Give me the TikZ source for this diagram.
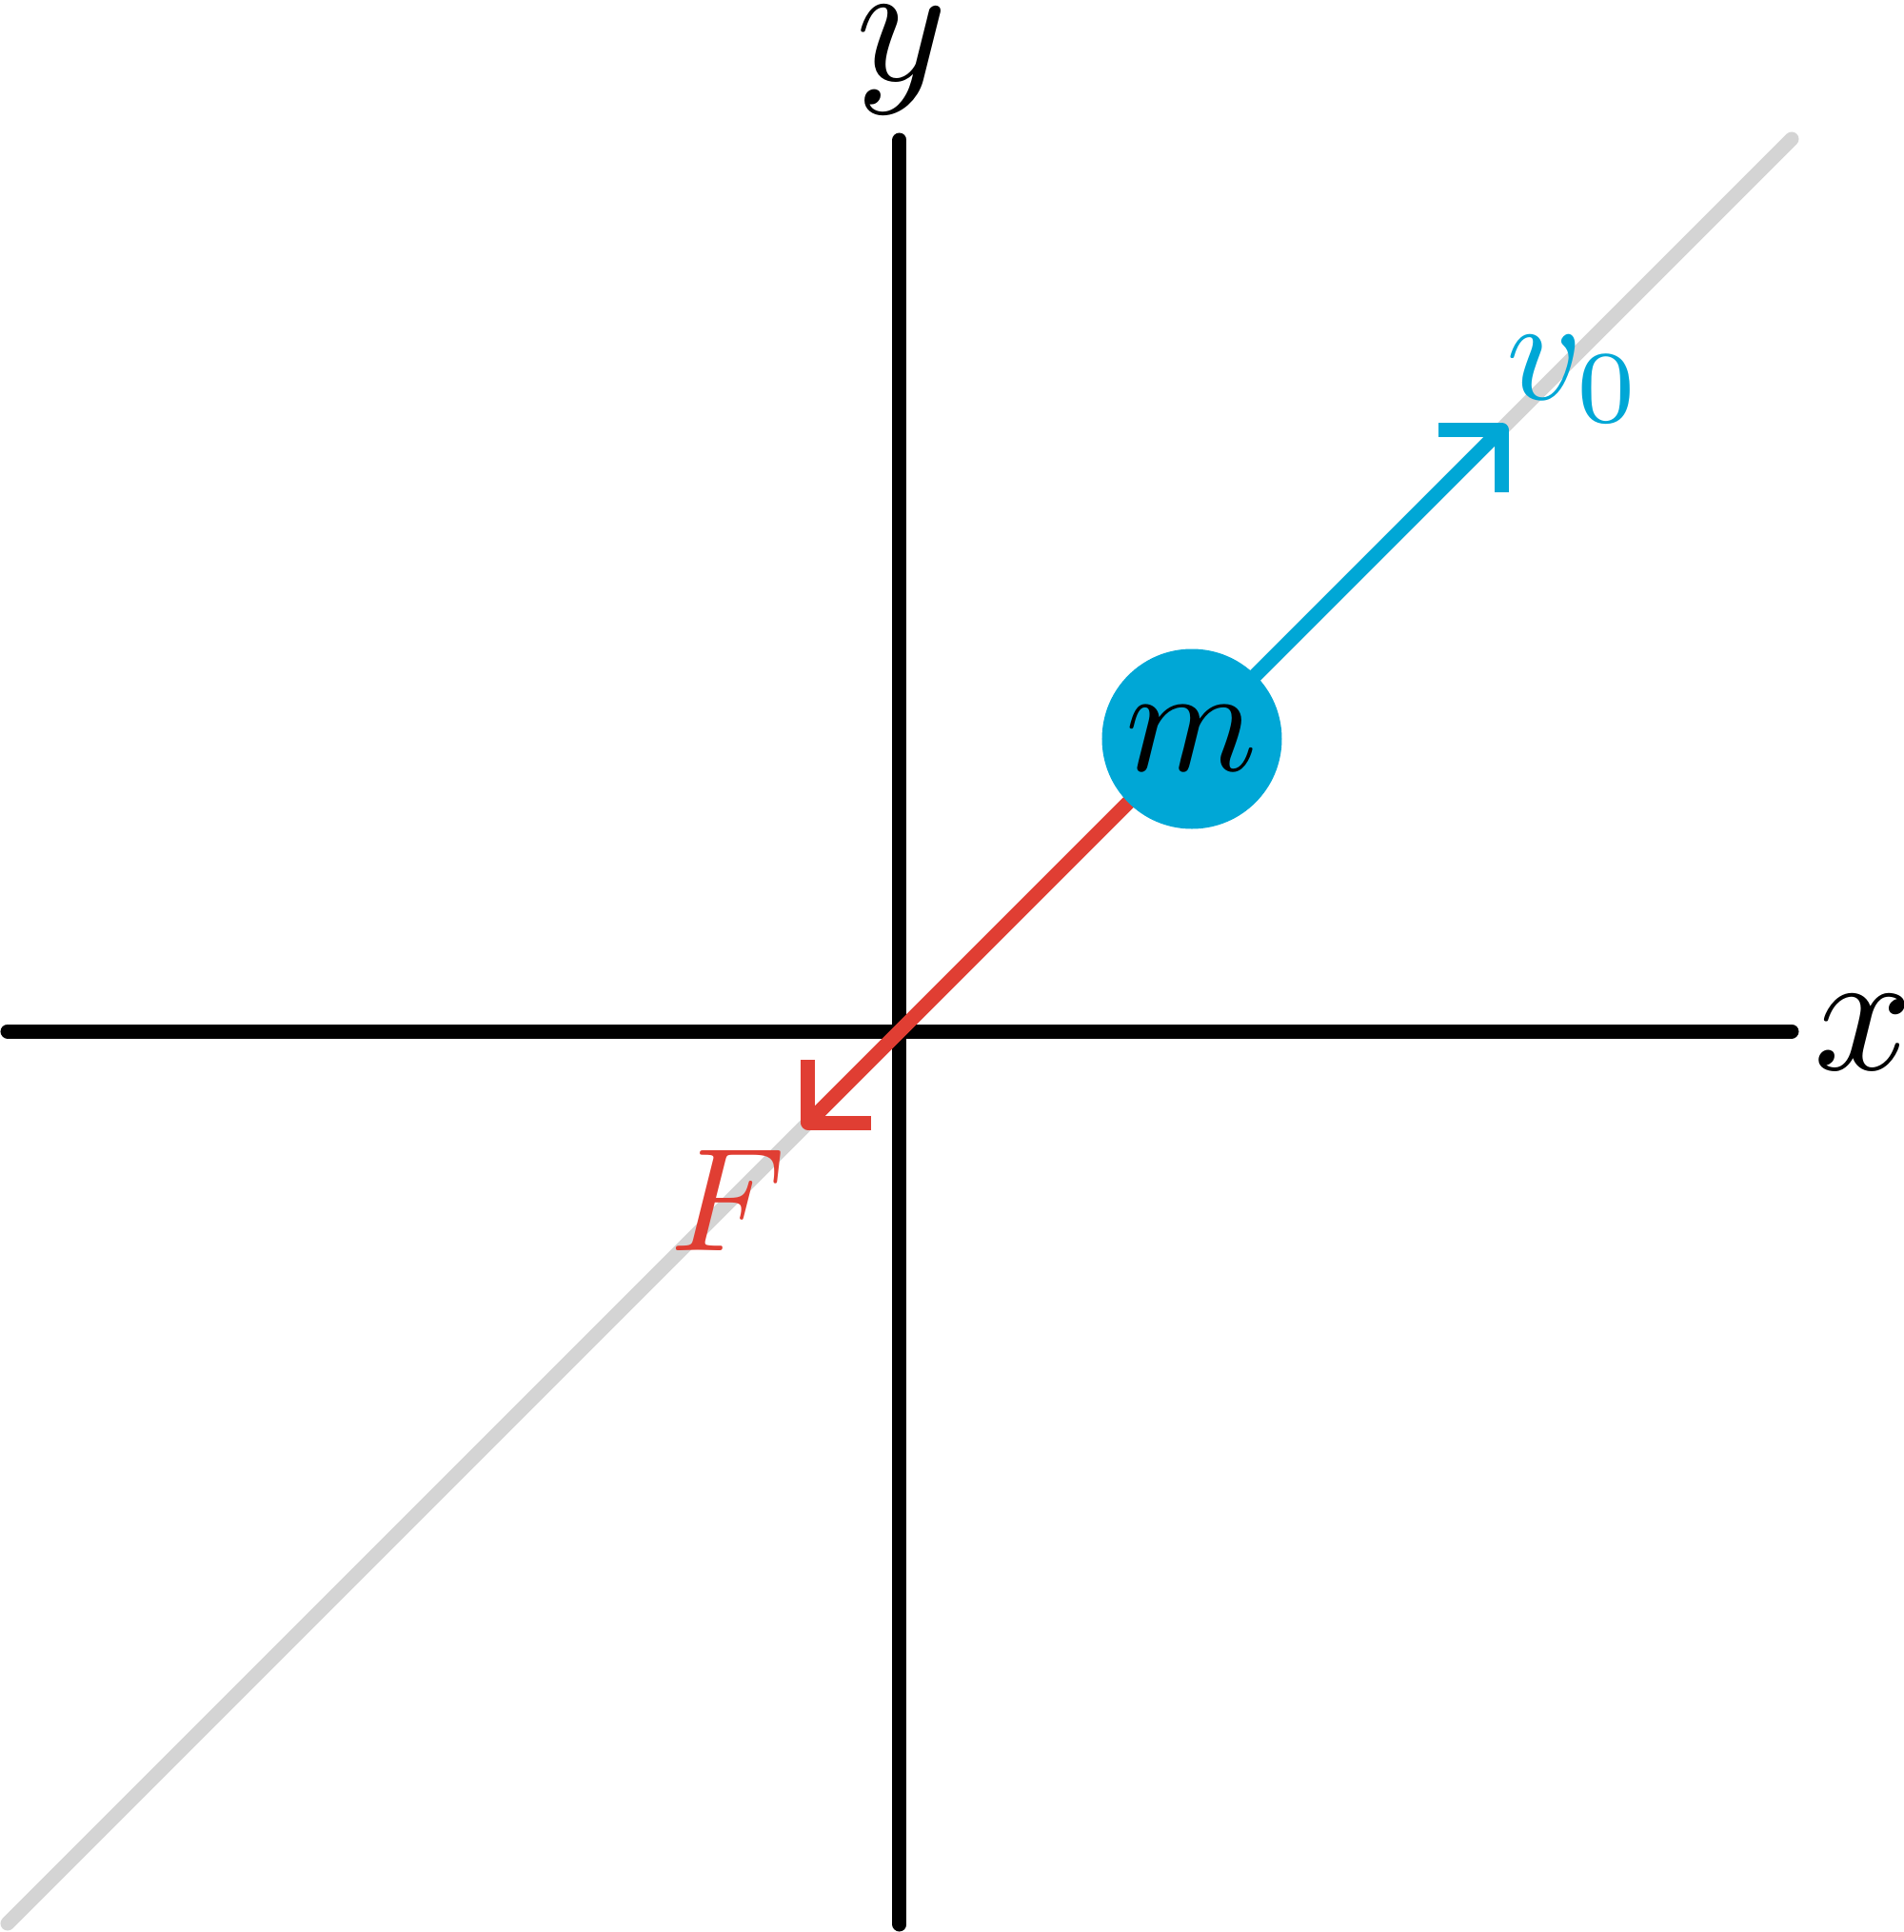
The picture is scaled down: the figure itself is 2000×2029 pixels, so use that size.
\documentclass[tikz,border=0pt]{standalone}
\definecolor{vblue}{HTML}{00A7D6}
\definecolor{fred}{HTML}{E03E33}
\definecolor{lgray}{HTML}{D4D4D4}
\begin{document}
\begin{tikzpicture}[x=0.0666667pt, y=0.0666667pt,
  axis/.style={line width=1pt, line cap=round},
  vec/.style={line width=1pt},
  head/.style={line width=1pt, line join=round},
  big/.style={scale=1.21, inner sep=0pt, anchor=base west},
  lab/.style={scale=1.03, inner sep=0pt, anchor=base west}]
\useasboundingbox (-945,-946) rectangle (1055,1083);
\coordinate (gs) at (-937,-937);
\coordinate (ge) at (937,937);
\draw[axis, lgray] (gs) -- (ge);
\coordinate (xl) at (-937,0);
\coordinate (xr) at (937,0);
\coordinate (yb) at (0,-938);
\coordinate (yt) at (0,936);
\draw[axis] (xl) -- (xr);
\draw[axis] (yb) -- (yt);
\coordinate (mc) at (307,307);
\coordinate (vt) at (632,632);
\coordinate (ft) at (-96,-96);
\draw[vec, vblue] (mc) -- (vt);
\draw[head, vblue] ([xshift=-4.4pt]vt) -- (vt) -- ([yshift=-4.4pt]vt);
\draw[vec, fred] (mc) -- (ft);
\draw[head, fred] ([xshift=4.4pt]ft) -- (ft) -- ([yshift=4.4pt]ft);
\node[circle, fill=vblue, minimum size=12.6pt, inner sep=0pt] (m) at (mc) {\scalebox{1.05}{$m$}};
\node[big] (ylab) at (-49,998) {$y$};
\node[big] (xlab) at (957,-40) {$x$};
\node[lab, text=vblue] (vlab) at (634,663) {$v_0$};
\node[lab, text=fred] (flab) at (-244,-230) {$F$};
\end{tikzpicture}
\end{document}
